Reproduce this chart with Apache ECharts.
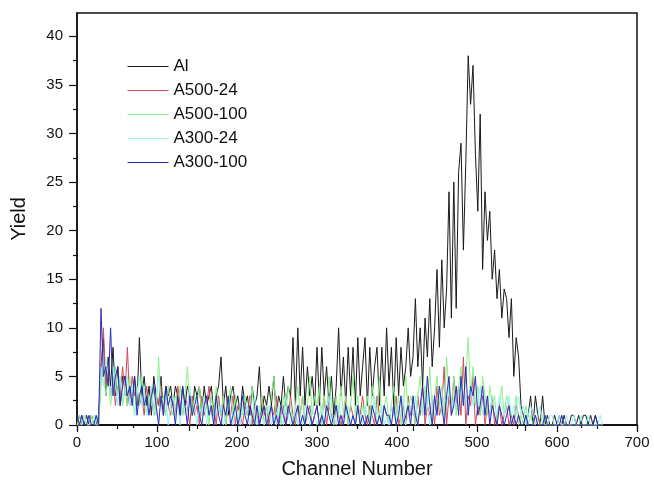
<!DOCTYPE html>
<html>
  <head>
    <meta charset="UTF-8" />
    <title>Yield vs channel</title>
    <style>
      html, body { margin: 0; padding: 0; background: #fff; }
      #main { width: 654px; height: 485px; }
    </style>
  </head>
  <body>
    <div id="main"></div>
    <script src="https://cdn.jsdelivr.net/npm/echarts@6/dist/echarts.min.js"></script>
    <script>
      // counts, one value every 3 channels (0, 3, 6 ... 657)
      const step = 3

      const al = [
        0, 1, 0, 0, 1, 0, 1, 0, 0, 1,
        6, 9, 3, 7, 4, 8, 3, 6, 2, 5,
        5, 2, 4, 3, 5, 2, 9, 3, 5, 2,
        4, 1, 5, 3, 2, 5, 1, 4, 3, 4,
        2, 4, 3, 1, 4, 2, 4, 3, 1, 4,
        3, 4, 1, 4, 2, 3, 4, 1, 3, 4,
        7, 2, 4, 1, 3, 4, 2, 3, 1, 4,
        2, 3, 1, 4, 2, 3, 6, 1, 3, 2,
        4, 2, 5, 1, 3, 2, 5, 2, 4, 3,
        9, 2, 10, 3, 8, 2, 6, 3, 5, 2,
        8, 2, 8, 3, 6, 2, 5, 1, 4, 10,
        3, 7, 2, 8, 3, 8, 2, 9, 3, 6,
        9, 2, 8, 3, 6, 8, 2, 8, 3, 10,
        4, 8, 2, 9, 3, 8, 4, 6, 10, 5,
        7, 13, 6, 10, 4, 11, 7, 13, 6, 10,
        16, 8, 17, 10, 14, 24, 11, 25, 12, 26,
        29, 18, 27, 38, 33, 37, 28, 22, 32, 16,
        24, 19, 22, 15, 18, 13, 16, 11, 14, 13,
        9, 13, 5, 9, 7, 2, 1, 0, 1, 3,
        0, 3, 1, 0, 3, 0, 1, 0, 0, 1,
        0, 1, 0, 1, 0, 0, 1, 1, 0, 1,
        0, 1, 1, 0, 1, 0, 1, 0, 0, 0,
      ]

      const a500_24 = [
        0, 0, 1, 0, 0, 0, 1, 0, 0, 0,
        5, 10, 4, 6, 3, 5, 2, 4, 3, 6,
        3, 8, 2, 5, 3, 4, 2, 3, 1, 4,
        2, 4, 1, 3, 2, 4, 1, 3, 2, 1,
        3, 1, 4, 2, 1, 3, 2, 0, 3, 1,
        2, 0, 3, 1, 2, 4, 1, 2, 0, 3,
        1, 3, 0, 2, 1, 3, 0, 2, 1, 0,
        2, 1, 3, 0, 2, 1, 0, 3, 1, 2,
        0, 2, 1, 3, 0, 1, 2, 0, 1, 3,
        1, 0, 2, 1, 3, 0, 1, 2, 0, 1,
        2, 0, 1, 3, 0, 2, 1, 0, 2, 1,
        0, 1, 3, 0, 2, 1, 0, 2, 1, 3,
        1, 0, 2, 1, 0, 3, 1, 0, 2, 1,
        0, 2, 1, 3, 0, 1, 2, 0, 3, 1,
        2, 0, 3, 1, 4, 0, 2, 1, 3, 0,
        4, 1, 2, 6, 0, 3, 1, 5, 2, 4,
        1, 7, 0, 3, 2, 5, 0, 2, 1, 3,
        0, 2, 1, 3, 0, 1, 2, 0, 1, 2,
        0, 1, 0, 2, 1, 0, 0, 1, 0, 0,
        0, 0, 1, 0, 0, 0, 0, 0, 0, 0,
        0, 0, 0, 0, 0, 0, 0, 0, 0, 0,
        0, 0, 0, 0, 0, 0, 0, 0, 0, 0,
      ]

      const a500_100 = [
        0, 1, 0, 1, 0, 0, 1, 0, 1, 0,
        4, 6, 3, 5, 2, 4, 6, 3, 5, 2,
        4, 2, 5, 3, 1, 4, 2, 5, 3, 1,
        3, 2, 4, 1, 7, 2, 3, 1, 4, 2,
        1, 3, 2, 4, 1, 3, 6, 2, 1, 3,
        2, 4, 1, 3, 2, 0, 3, 1, 4, 2,
        1, 3, 0, 2, 4, 1, 3, 0, 2, 1,
        3, 1, 2, 4, 0, 2, 1, 3, 0, 2,
        1, 3, 5, 1, 2, 0, 3, 1, 4, 2,
        0, 2, 4, 1, 3, 0, 2, 5, 1, 3,
        2, 4, 0, 3, 1, 5, 2, 0, 3, 1,
        4, 1, 3, 0, 2, 5, 1, 3, 0, 2,
        1, 3, 0, 4, 2, 1, 5, 0, 2, 3,
        0, 2, 4, 1, 3, 0, 2, 5, 1, 3,
        2, 0, 3, 5, 1, 4, 2, 6, 1, 3,
        5, 2, 4, 1, 7, 3, 2, 5, 1, 4,
        6, 2, 5, 9, 3, 6, 2, 4, 1, 5,
        3, 1, 4, 2, 3, 0, 2, 4, 1, 3,
        2, 0, 1, 3, 0, 1, 0, 2, 0, 1,
        0, 1, 0, 0, 1, 0, 0, 0, 0, 0,
        0, 0, 0, 0, 0, 0, 0, 0, 0, 0,
        0, 0, 0, 0, 0, 0, 0, 0, 0, 0,
      ]

      const a300_24 = [
        0, 0, 0, 1, 0, 0, 0, 1, 0, 0,
        6, 4, 7, 5, 3, 6, 4, 2, 5, 3,
        3, 5, 2, 4, 1, 3, 5, 2, 4, 1,
        2, 4, 1, 3, 5, 2, 1, 3, 0, 2,
        3, 1, 2, 0, 3, 1, 2, 4, 1, 2,
        0, 2, 1, 3, 0, 2, 1, 0, 2, 1,
        2, 0, 1, 3, 1, 0, 2, 1, 0, 2,
        1, 2, 0, 1, 3, 0, 2, 1, 0, 1,
        2, 0, 1, 0, 2, 1, 0, 3, 1, 0,
        1, 2, 0, 1, 0, 2, 1, 0, 2, 1,
        0, 1, 2, 0, 1, 3, 0, 1, 0, 2,
        1, 0, 1, 2, 0, 1, 0, 2, 1, 0,
        2, 1, 0, 1, 3, 0, 1, 2, 0, 1,
        0, 2, 1, 0, 2, 1, 3, 0, 1, 2,
        1, 3, 0, 2, 1, 3, 2, 0, 3, 1,
        2, 4, 1, 3, 2, 4, 1, 3, 2, 3,
        4, 2, 3, 1, 4, 2, 3, 2, 4, 1,
        3, 2, 1, 3, 2, 1, 3, 2, 1, 2,
        3, 1, 2, 1, 3, 1, 2, 0, 1, 2,
        1, 0, 1, 2, 0, 1, 0, 1, 1, 0,
        0, 1, 0, 0, 1, 0, 0, 1, 0, 0,
        1, 0, 0, 1, 0, 0, 0, 0, 1, 0,
      ]

      const a300_100 = [
        1, 0, 1, 0, 0, 1, 0, 0, 1, 0,
        12, 5, 6, 4, 10, 3, 5, 6, 2, 4,
        5, 3, 4, 2, 5, 1, 3, 4, 2, 3,
        1, 3, 4, 2, 0, 3, 1, 4, 2, 3,
        2, 0, 3, 1, 4, 2, 0, 3, 1, 2,
        3, 1, 0, 2, 3, 1, 2, 0, 3, 1,
        0, 2, 1, 3, 0, 1, 2, 0, 1, 3,
        1, 0, 2, 1, 0, 2, 0, 1, 2, 0,
        1, 2, 0, 1, 0, 2, 1, 0, 2, 1,
        0, 1, 2, 0, 1, 0, 2, 1, 0, 1,
        2, 0, 1, 0, 2, 1, 0, 1, 2, 0,
        1, 0, 2, 1, 0, 1, 0, 2, 0, 1,
        0, 1, 0, 2, 1, 0, 1, 0, 2, 1,
        1, 0, 2, 0, 1, 3, 0, 1, 2, 0,
        3, 1, 0, 2, 4, 1, 5, 2, 0, 3,
        1, 4, 2, 0, 3, 5, 1, 2, 4, 1,
        5, 2, 6, 1, 4, 3, 5, 1, 2, 4,
        1, 3, 0, 2, 1, 0, 2, 1, 0, 1,
        2, 0, 1, 0, 1, 0, 0, 1, 0, 0,
        0, 1, 0, 0, 0, 1, 0, 0, 0, 0,
        0, 0, 1, 0, 0, 0, 0, 0, 0, 0,
        0, 0, 0, 0, 0, 0, 1, 0, 0, 0,
      ]

      const names = ['Al', 'A500-24', 'A500-100', 'A300-24', 'A300-100']
      const colors = ['#1a1a1a', '#d04a5a', '#8cf08c', '#9cf2f2', '#2a2ab4']
      const yMajor = [0, 5, 10, 15, 20, 25, 30, 35, 40]
      const yMinor = [2.5, 7.5, 12.5, 17.5, 22.5, 27.5, 32.5, 37.5]

      const channels = al.map((_, i) => i * step)
      const pairs = (vals) => vals.map((v, i) => [channels[i], v])

      const font = "'Liberation Sans', Arial, sans-serif"
      const chart = echarts.init(document.getElementById('main'))

      chart.setOption({
        animation: false,
        textStyle: { fontFamily: font },
        grid: {
          left: 77, right: 17, top: 13, bottom: 60,
          show: true, borderColor: '#111', borderWidth: 1.5,
        },
        legend: {
          orient: 'vertical',
          left: 122,
          top: 53,
          itemWidth: 41,
          itemHeight: 14,
          itemGap: 7,
          itemStyle: { opacity: 0 },
          lineStyle: { width: 1 },
          textStyle: { fontSize: 17, color: '#111', fontFamily: font },
          data: names,
        },
        xAxis: [
          {
            type: 'value',
            min: 0, max: 700, interval: 100,
            name: 'Channel Number',
            nameLocation: 'middle',
            nameGap: 34,
            nameTextStyle: { fontSize: 20, color: '#111' },
            axisLine: { lineStyle: { color: '#111', width: 1.5 } },
            axisTick: { length: 7, lineStyle: { color: '#111', width: 1.2 } },
            minorTick: { show: true, splitNumber: 2, length: 4, lineStyle: { color: '#111', width: 1.2 } },
            axisLabel: { fontSize: 15, color: '#111', margin: 10 },
            splitLine: { show: false },
          },
          {
            type: 'value',
            position: 'top',
            min: 0, max: 10, interval: 2,
            axisLine: { lineStyle: { color: '#111', width: 1.5 } },
            axisTick: { inside: true, length: 6, lineStyle: { color: '#111', width: 1.2 } },
            minorTick: { show: true, splitNumber: 2, length: 3, lineStyle: { color: '#111', width: 1.2 } },
            axisLabel: { show: false },
            splitLine: { show: false },
          },
        ],
        yAxis: [
          {
            type: 'value',
            min: 0, max: 42.4,
            name: 'Yield',
            nameLocation: 'middle',
            nameGap: 48,
            nameTextStyle: { fontSize: 20, color: '#111' },
            axisLine: { show: true, lineStyle: { color: '#111', width: 1.5 } },
            axisTick: { show: true, customValues: yMajor, length: 8, lineStyle: { color: '#111', width: 1.2 } },
            axisLabel: { customValues: yMajor, fontSize: 15, color: '#111', margin: 14 },
            splitLine: { show: false },
          },
          {
            type: 'value',
            position: 'left',
            min: 0, max: 42.4,
            axisLine: { show: false },
            axisTick: { show: true, customValues: yMinor, length: 4, lineStyle: { color: '#111', width: 1.2 } },
            axisLabel: { show: false },
            splitLine: { show: false },
          },
        ],
        series: [al, a500_24, a500_100, a300_24, a300_100].map((vals, k) => ({
          name: names[k],
          type: 'line',
          xAxisIndex: 0,
          yAxisIndex: 0,
          symbol: 'none',
          color: colors[k],
          lineStyle: { width: 1, color: colors[k] },
          data: pairs(vals),
        })),
      })
    </script>
  </body>
</html>
